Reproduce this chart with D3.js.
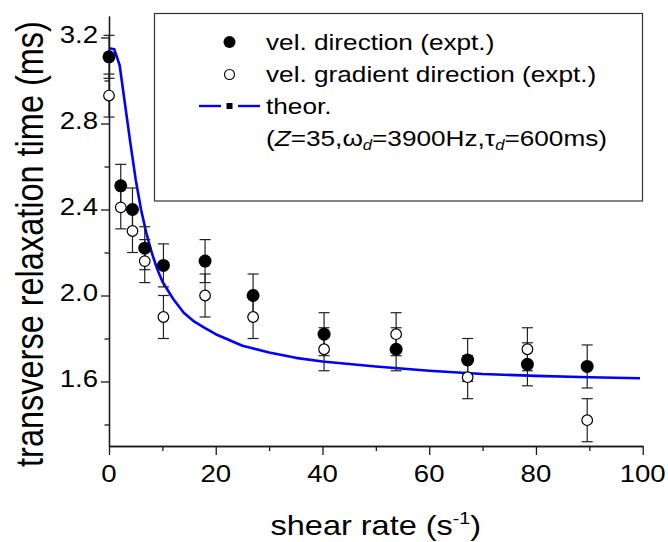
<!DOCTYPE html>
<html><head><meta charset="utf-8">
<script src="https://cdn.jsdelivr.net/npm/d3@7"></script>
<style>
body{margin:0;background:#fff}
svg{display:block}
text{font-family:"Liberation Sans",Arial,Helvetica,sans-serif;fill:#000}
</style>
</head><body>
<svg id="c" width="668" height="542"></svg>
<script>
// ---- data ----
const shearRate = [0, 2.2, 4.4, 6.7, 10.2, 18, 27, 40.3, 53.8, 67.2, 78.4, 89.6];
const tauVel    = [3.11, 2.51, 2.40, 2.22, 2.14, 2.16, 2.00, 1.82, 1.75, 1.70, 1.68, 1.67];
const errVel    = [0.1, 0.1, 0.1, 0.1, 0.1, 0.1, 0.1, 0.1, 0.1, 0.1, 0.1, 0.1];
const tauGrad   = [2.93, 2.41, 2.30, 2.16, 1.90, 2.00, 1.90, 1.75, 1.82, 1.62, 1.75, 1.42];
const errGrad   = [0.1, 0.1, 0.1, 0.1, 0.1, 0.1, 0.1, 0.1, 0.1, 0.1, 0.1, 0.1];
const theoryShear = [0, 1, 2, 3, 4, 5, 6, 7, 8, 9, 10, 12, 14, 16, 18, 20, 25, 30, 35, 40, 50, 60, 70, 80, 90, 99.5];
const theoryTau   = [3.15, 3.145, 3.07, 2.89, 2.71, 2.54, 2.40, 2.29, 2.20, 2.125, 2.065, 1.985, 1.92, 1.878, 1.848, 1.82, 1.766, 1.735, 1.71, 1.693, 1.67, 1.65, 1.635, 1.626, 1.62, 1.615];
const xMajorTicks = [0, 20, 40, 60, 80, 100];
const xMinorTicks = [10, 30, 50, 70, 90];
const yMajorTicks = [1.6, 2.0, 2.4, 2.8, 3.2];
const yMinorTicks = [1.4, 1.8, 2.2, 2.6, 3.0];
const xDomain = [0, 100];
const yDomain = [1.3, 3.3];
const legendLabels = ["vel. direction (expt.)", "vel. gradient direction (expt.)", "theor."];

// ---- layout ----
const svg = d3.select("#c");
const L = 109, R = 642.7, T = 16, B = 446;
const SX = 1.2; // horizontal glyph stretch seen in the reference
const x = d3.scaleLinear().domain(xDomain).range([L, R]);
const y = d3.scaleLinear().domain(yDomain).range([B, T]);
const axisColor = "#1a1a1a";

// legend box (drawn first, behind)
svg.append("rect").attr("x", 154.5).attr("y", 13.5).attr("width", 488).attr("height", 187.5)
  .attr("fill", "#fff").attr("stroke", "#333").attr("stroke-width", 1.2);

// axes
function styleAxis(g){
  g.selectAll("path.domain").attr("stroke", axisColor).attr("stroke-width", 1.3);
  g.selectAll(".tick line").attr("stroke", axisColor).attr("stroke-width", 1.3);
  g.selectAll(".tick text").remove();
}
svg.append("g").attr("transform", `translate(0,${B})`)
  .call(d3.axisBottom(x).tickValues(xMinorTicks).tickSize(5).tickSizeOuter(0).tickFormat(""))
  .call(styleAxis);
svg.append("g").attr("transform", `translate(0,${B})`)
  .call(d3.axisBottom(x).tickValues(xMajorTicks).tickSize(9).tickSizeOuter(0).tickFormat(""))
  .call(styleAxis);
svg.append("g").attr("transform", `translate(${L},0)`)
  .call(d3.axisLeft(y).tickValues(yMinorTicks).tickSize(4.5).tickSizeOuter(0).tickFormat(""))
  .call(styleAxis);
svg.append("g").attr("transform", `translate(${L},0)`)
  .call(d3.axisLeft(y).tickValues(yMajorTicks).tickSize(8).tickSizeOuter(0).tickFormat(""))
  .call(styleAxis);

// tick labels
const fmtX = d3.format("d"), fmtY = d3.format(".1f");
svg.append("g").selectAll("g").data(xMajorTicks).join("g")
  .attr("transform", d => `translate(${x(d)},482) scale(${SX},1)`)
  .append("text").attr("text-anchor", "middle").attr("font-size", 23).text(fmtX);
svg.append("g").selectAll("g").data(yMajorTicks).join("g")
  .attr("transform", d => `translate(98,${y(d) + 5}) scale(${SX},1)`)
  .append("text").attr("text-anchor", "end").attr("font-size", 23).text(fmtY);

// axis titles
const xt = svg.append("g").attr("transform", `translate(${(L + R) / 2},535) scale(1.16,1)`)
  .append("text").attr("text-anchor", "middle").attr("font-size", 28);
xt.append("tspan").text("shear rate (s");
xt.append("tspan").attr("font-size", 17).attr("dy", -11).text("-1");
xt.append("tspan").attr("dy", 11).text(")");

svg.append("g").attr("transform", `translate(43,244) scale(1.2,1) rotate(-90)`)
  .append("text").attr("text-anchor", "middle").attr("font-size", 32.5)
  .text("transverse relaxation time (ms)");

// theory curve
const line = d3.line().x(d => x(d[0])).y(d => y(d[1]));
svg.append("path").datum(theoryShear.map((s, i) => [s, theoryTau[i]]))
  .attr("d", line).attr("fill", "none").attr("stroke", "#0000ff")
  .attr("stroke-width", 2.6).attr("stroke-linejoin", "round");

// error bars + markers
function errorBars(vals, errs){
  const g = svg.append("g").attr("stroke", "#222").attr("stroke-width", 1.2);
  shearRate.forEach((s, i) => {
    const cx = x(s), y1 = y(vals[i] + errs[i]), y2 = y(vals[i] - errs[i]);
    g.append("line").attr("x1", cx).attr("x2", cx).attr("y1", y1).attr("y2", y2);
    g.append("line").attr("x1", cx - 5.5).attr("x2", cx + 5.5).attr("y1", y1).attr("y2", y1);
    g.append("line").attr("x1", cx - 5.5).attr("x2", cx + 5.5).attr("y1", y2).attr("y2", y2);
  });
}
errorBars(tauVel, errVel);
errorBars(tauGrad, errGrad);
svg.append("g").selectAll("circle").data(shearRate).join("circle")
  .attr("cx", d => x(d)).attr("cy", (d, i) => y(tauVel[i])).attr("r", 6.5).attr("fill", "#000");
svg.append("g").selectAll("circle").data(shearRate).join("circle")
  .attr("cx", d => x(d)).attr("cy", (d, i) => y(tauGrad[i])).attr("r", 5.3)
  .attr("fill", "#fff").attr("stroke", "#000").attr("stroke-width", 1.2);

// legend
const lg = svg.append("g");
lg.append("circle").attr("cx", 229.5).attr("cy", 42).attr("r", 6).attr("fill", "#000");
lg.append("circle").attr("cx", 229.5).attr("cy", 74.5).attr("r", 5).attr("fill", "#fff")
  .attr("stroke", "#000").attr("stroke-width", 1.1);
lg.append("line").attr("x1", 199).attr("x2", 221).attr("y1", 106).attr("y2", 106)
  .attr("stroke", "#0000ff").attr("stroke-width", 2.4);
lg.append("line").attr("x1", 238).attr("x2", 260).attr("y1", 106).attr("y2", 106)
  .attr("stroke", "#0000ff").attr("stroke-width", 2.4);
lg.append("rect").attr("x", 226.5).attr("y", 103).attr("width", 6).attr("height", 6).attr("fill", "#000");
const rowsY = [50, 82, 114];
legendLabels.forEach((t, i) => {
  lg.append("g").attr("transform", `translate(266,${rowsY[i]}) scale(1.19,1)`)
    .append("text").attr("font-size", 22).text(t);
});
const l4 = lg.append("g").attr("transform", `translate(266,146) scale(1.19,1)`)
  .append("text").attr("font-size", 22);
l4.append("tspan").text("(");
l4.append("tspan").attr("font-style", "italic").text("Z");
l4.append("tspan").text("=35,\u03C9");
l4.append("tspan").attr("font-size", 14).attr("font-style", "italic").attr("dy", 4).text("d");
l4.append("tspan").attr("dy", -4).text("=3900Hz,\u03C4");
l4.append("tspan").attr("font-size", 14).attr("font-style", "italic").attr("dy", 4).text("d");
l4.append("tspan").attr("dy", -4).text("=600ms)");
</script>
</body></html>
